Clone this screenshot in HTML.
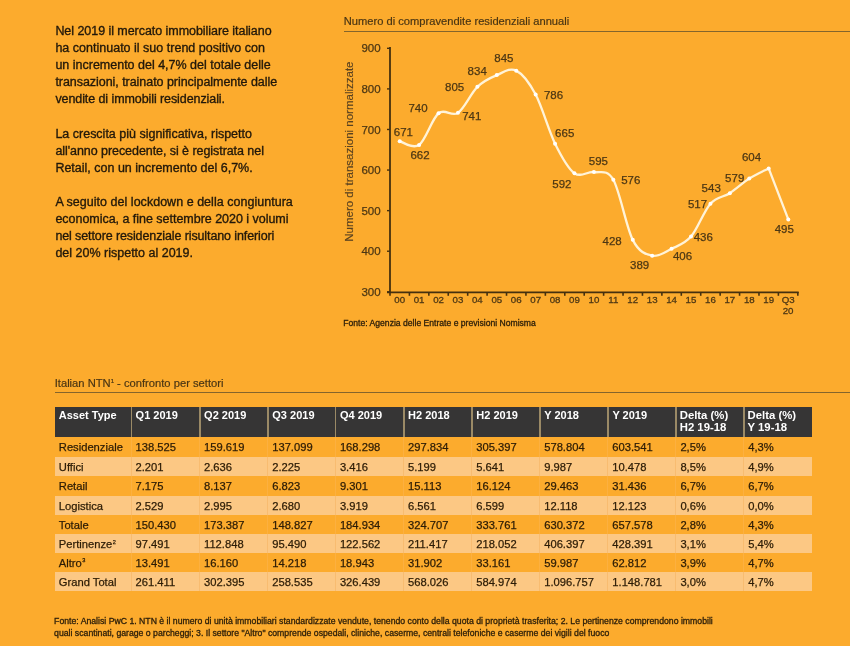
<!DOCTYPE html>
<html><head><meta charset="utf-8"><style>
html,body{margin:0;padding:0;}
body{width:850px;height:646px;background:#FCAB2D;position:relative;overflow:hidden;font-family:"Liberation Sans",Arial,sans-serif;}
.intro{position:absolute;left:55.4px;top:23px;width:260px;font-size:12.5px;line-height:17.1px;color:#22180a;-webkit-text-stroke:0.35px #22180a;}
.intro p{margin:0 0 17.1px 0;}
.ctitle{position:absolute;left:343.8px;top:15px;font-size:11.15px;color:#4a3614;-webkit-text-stroke:0.2px #4a3614;white-space:nowrap;}
.crule{position:absolute;left:343.8px;top:30.6px;width:507px;height:1px;background:#84652c;}
.chart{position:absolute;left:0;top:0;}
.chart text{font-family:"Liberation Sans",Arial,sans-serif;}
.yl{font-size:11.5px;fill:#4c3714;stroke:#4c3714;stroke-width:0.25px;text-anchor:end;}
.xl{font-size:9.7px;fill:#4e3814;stroke:#4e3814;stroke-width:0.3px;text-anchor:middle;}
.dl{font-size:11.5px;fill:#4c3714;stroke:#4c3714;stroke-width:0.25px;text-anchor:middle;}
.yt{font-size:11.5px;fill:#5a4220;stroke:#5a4220;stroke-width:0.15px;text-anchor:middle;}
.cfoot{position:absolute;left:343.3px;top:318px;font-size:8.6px;color:#2e200a;-webkit-text-stroke:0.3px #2e200a;white-space:nowrap;}
.ttitle{position:absolute;left:54.7px;top:377px;font-size:11.2px;color:#4a3614;-webkit-text-stroke:0.2px #4a3614;white-space:nowrap;}
.ttitle sup{font-size:6px;vertical-align:4px;}
.trule{position:absolute;left:55px;top:392px;width:795px;height:1px;background:#84652c;}
.hdr{position:absolute;left:55px;top:406.5px;width:756.8px;height:30.5px;background:#363535;}
.hsep{position:absolute;top:406.5px;width:1.5px;height:30.5px;background:#9b8a66;}
.hc{position:absolute;top:407.5px;font-size:11px;font-weight:bold;color:#fff;line-height:14px;white-space:nowrap;}
.hd{font-size:11.35px;line-height:12.5px;top:408.5px;}
.ro,.rl{position:absolute;left:55px;width:756.8px;height:19.25px;}
.ro{background:transparent;}
.rl{background:#FCC884;}
.ros,.rls{position:absolute;width:1px;height:19.25px;}
.ros{background:#FCB040;}
.rls{background:#F8BC70;}
.bc{position:absolute;font-size:11.2px;line-height:19.25px;margin-top:1.2px;color:#2c1c06;-webkit-text-stroke:0.25px #2c1c06;white-space:nowrap;}
.sp{font-size:5.6px;position:relative;top:-4.6px;line-height:0;margin-left:0.4px;}
.tfoot{position:absolute;left:54.1px;top:616.3px;font-size:8.7px;line-height:11.6px;color:#2e200a;-webkit-text-stroke:0.3px #2e200a;white-space:nowrap;}
</style></head><body>
<div class="intro">
<p><span style="letter-spacing:-0.05px">Nel 2019 il mercato immobiliare italiano</span><br><span style="letter-spacing:0.009px">ha continuato il suo trend positivo con</span><br><span style="letter-spacing:-0.003px">un incremento del 4,7% del totale delle</span><br><span style="letter-spacing:-0.048px">transazioni, trainato principalmente dalle</span><br><span style="letter-spacing:-0.084px">vendite di immobili residenziali.</span></p>
<p><span style="letter-spacing:-0.001px">La crescita più significativa, rispetto</span><br><span style="letter-spacing:-0.06px">all'anno precedente, si è registrata nel</span><br><span style="letter-spacing:-0.001px">Retail, con un incremento del 6,7%.</span></p>
<p><span style="letter-spacing:0.027px">A seguito del lockdown e della congiuntura</span><br><span style="letter-spacing:-0.026px">economica, a fine settembre 2020 i volumi</span><br><span style="letter-spacing:-0.11px">nel settore residenziale risultano inferiori</span><br>del 20% rispetto al 2019.</p>
</div>
<div class="ctitle">Numero di compravendite residenziali annuali</div>
<div class="crule"></div>
<svg class="chart" width="850" height="340" viewBox="0 0 850 340">
<line x1="390" y1="47" x2="390" y2="292.6" stroke="#45300f" stroke-width="1.8"/>
<line x1="387" y1="292.3" x2="798.7" y2="292.3" stroke="#45300f" stroke-width="1.8"/>
<line x1="387" y1="291.80" x2="390" y2="291.80" stroke="#45300f" stroke-width="1.4"/>
<text x="380.6" y="295.90" class="yl">300</text>
<line x1="387" y1="251.22" x2="390" y2="251.22" stroke="#45300f" stroke-width="1.4"/>
<text x="380.6" y="255.32" class="yl">400</text>
<line x1="387" y1="210.64" x2="390" y2="210.64" stroke="#45300f" stroke-width="1.4"/>
<text x="380.6" y="214.74" class="yl">500</text>
<line x1="387" y1="170.06" x2="390" y2="170.06" stroke="#45300f" stroke-width="1.4"/>
<text x="380.6" y="174.16" class="yl">600</text>
<line x1="387" y1="129.48" x2="390" y2="129.48" stroke="#45300f" stroke-width="1.4"/>
<text x="380.6" y="133.58" class="yl">700</text>
<line x1="387" y1="88.90" x2="390" y2="88.90" stroke="#45300f" stroke-width="1.4"/>
<text x="380.6" y="93.00" class="yl">800</text>
<line x1="387" y1="48.32" x2="390" y2="48.32" stroke="#45300f" stroke-width="1.4"/>
<text x="380.6" y="52.42" class="yl">900</text>
<line x1="390.00" y1="292" x2="390.00" y2="295.8" stroke="#45300f" stroke-width="1.6"/>
<line x1="409.42" y1="292" x2="409.42" y2="295.8" stroke="#45300f" stroke-width="1.6"/>
<line x1="428.84" y1="292" x2="428.84" y2="295.8" stroke="#45300f" stroke-width="1.6"/>
<line x1="448.26" y1="292" x2="448.26" y2="295.8" stroke="#45300f" stroke-width="1.6"/>
<line x1="467.68" y1="292" x2="467.68" y2="295.8" stroke="#45300f" stroke-width="1.6"/>
<line x1="487.10" y1="292" x2="487.10" y2="295.8" stroke="#45300f" stroke-width="1.6"/>
<line x1="506.52" y1="292" x2="506.52" y2="295.8" stroke="#45300f" stroke-width="1.6"/>
<line x1="525.94" y1="292" x2="525.94" y2="295.8" stroke="#45300f" stroke-width="1.6"/>
<line x1="545.36" y1="292" x2="545.36" y2="295.8" stroke="#45300f" stroke-width="1.6"/>
<line x1="564.78" y1="292" x2="564.78" y2="295.8" stroke="#45300f" stroke-width="1.6"/>
<line x1="584.20" y1="292" x2="584.20" y2="295.8" stroke="#45300f" stroke-width="1.6"/>
<line x1="603.62" y1="292" x2="603.62" y2="295.8" stroke="#45300f" stroke-width="1.6"/>
<line x1="623.04" y1="292" x2="623.04" y2="295.8" stroke="#45300f" stroke-width="1.6"/>
<line x1="642.46" y1="292" x2="642.46" y2="295.8" stroke="#45300f" stroke-width="1.6"/>
<line x1="661.88" y1="292" x2="661.88" y2="295.8" stroke="#45300f" stroke-width="1.6"/>
<line x1="681.30" y1="292" x2="681.30" y2="295.8" stroke="#45300f" stroke-width="1.6"/>
<line x1="700.72" y1="292" x2="700.72" y2="295.8" stroke="#45300f" stroke-width="1.6"/>
<line x1="720.14" y1="292" x2="720.14" y2="295.8" stroke="#45300f" stroke-width="1.6"/>
<line x1="739.56" y1="292" x2="739.56" y2="295.8" stroke="#45300f" stroke-width="1.6"/>
<line x1="758.98" y1="292" x2="758.98" y2="295.8" stroke="#45300f" stroke-width="1.6"/>
<line x1="778.40" y1="292" x2="778.40" y2="295.8" stroke="#45300f" stroke-width="1.6"/>
<line x1="797.82" y1="292" x2="797.82" y2="295.8" stroke="#45300f" stroke-width="1.6"/>
<text x="399.71" y="302.8" class="xl">00</text>
<text x="419.13" y="302.8" class="xl">01</text>
<text x="438.55" y="302.8" class="xl">02</text>
<text x="457.97" y="302.8" class="xl">03</text>
<text x="477.39" y="302.8" class="xl">04</text>
<text x="496.81" y="302.8" class="xl">05</text>
<text x="516.23" y="302.8" class="xl">06</text>
<text x="535.65" y="302.8" class="xl">07</text>
<text x="555.07" y="302.8" class="xl">08</text>
<text x="574.49" y="302.8" class="xl">09</text>
<text x="593.91" y="302.8" class="xl">10</text>
<text x="613.33" y="302.8" class="xl">11</text>
<text x="632.75" y="302.8" class="xl">12</text>
<text x="652.17" y="302.8" class="xl">13</text>
<text x="671.59" y="302.8" class="xl">14</text>
<text x="691.01" y="302.8" class="xl">15</text>
<text x="710.43" y="302.8" class="xl">16</text>
<text x="729.85" y="302.8" class="xl">17</text>
<text x="749.27" y="302.8" class="xl">18</text>
<text x="768.69" y="302.8" class="xl">19</text>
<text x="788.11" y="302.8" class="xl">Q3</text>
<text x="788.11" y="314.2" class="xl">20</text>
<path d="M399.71,141.25 C402.95,141.86 412.66,149.57 419.13,144.90 C425.60,140.23 432.08,118.59 438.55,113.25 C445.02,107.90 451.50,117.24 457.97,112.84 C464.44,108.45 470.92,93.16 477.39,86.87 C483.86,80.58 490.34,77.81 496.81,75.10 C503.28,72.40 509.76,67.39 516.23,70.64 C522.70,73.89 529.18,82.41 535.65,94.58 C542.12,106.76 548.60,130.56 555.07,143.68 C561.54,156.80 568.02,168.57 574.49,173.31 C580.96,178.04 587.44,171.01 593.91,172.09 C600.38,173.17 606.86,168.50 613.33,179.80 C619.80,191.09 626.28,227.21 632.75,239.86 C639.22,252.51 645.70,254.20 652.17,255.68 C658.64,257.17 665.12,251.96 671.59,248.79 C678.06,245.61 684.54,244.12 691.01,236.61 C697.48,229.10 703.96,210.98 710.43,203.74 C716.90,196.50 723.38,197.38 729.85,193.19 C736.32,189.00 742.80,182.71 749.27,178.58 C755.74,174.46 765.45,170.13 768.69,168.44" fill="none" stroke="#FFF3D8" stroke-width="2.3" stroke-linecap="round" stroke-linejoin="round"/>
<path d="M768.69,168.44 L788.30,219.40" fill="none" stroke="#FFF3D8" stroke-width="2.3" stroke-linecap="round"/>
<circle cx="399.71" cy="141.25" r="2.0" fill="#FFFFFF"/>
<circle cx="419.13" cy="144.90" r="2.0" fill="#FFFFFF"/>
<circle cx="438.55" cy="113.25" r="2.0" fill="#FFFFFF"/>
<circle cx="457.97" cy="112.84" r="2.0" fill="#FFFFFF"/>
<circle cx="477.39" cy="86.87" r="2.0" fill="#FFFFFF"/>
<circle cx="496.81" cy="75.10" r="2.0" fill="#FFFFFF"/>
<circle cx="516.23" cy="70.64" r="2.0" fill="#FFFFFF"/>
<circle cx="535.65" cy="94.58" r="2.0" fill="#FFFFFF"/>
<circle cx="555.07" cy="143.68" r="2.0" fill="#FFFFFF"/>
<circle cx="574.49" cy="173.31" r="2.0" fill="#FFFFFF"/>
<circle cx="593.91" cy="172.09" r="2.0" fill="#FFFFFF"/>
<circle cx="613.33" cy="179.80" r="2.0" fill="#FFFFFF"/>
<circle cx="632.75" cy="239.86" r="2.0" fill="#FFFFFF"/>
<circle cx="652.17" cy="255.68" r="2.0" fill="#FFFFFF"/>
<circle cx="671.59" cy="248.79" r="2.0" fill="#FFFFFF"/>
<circle cx="691.01" cy="236.61" r="2.0" fill="#FFFFFF"/>
<circle cx="710.43" cy="203.74" r="2.0" fill="#FFFFFF"/>
<circle cx="729.85" cy="193.19" r="2.0" fill="#FFFFFF"/>
<circle cx="749.27" cy="178.58" r="2.0" fill="#FFFFFF"/>
<circle cx="768.69" cy="168.44" r="2.0" fill="#FFFFFF"/>
<circle cx="788.30" cy="219.40" r="2.0" fill="#FFFFFF"/>
<text x="403.40" y="135.70" class="dl">671</text>
<text x="420.00" y="158.60" class="dl">662</text>
<text x="418.00" y="111.90" class="dl">740</text>
<text x="471.80" y="119.80" class="dl">741</text>
<text x="454.60" y="90.80" class="dl">805</text>
<text x="477.20" y="74.80" class="dl">834</text>
<text x="503.90" y="62.00" class="dl">845</text>
<text x="553.50" y="98.50" class="dl">786</text>
<text x="564.70" y="137.30" class="dl">665</text>
<text x="561.90" y="188.30" class="dl">592</text>
<text x="598.40" y="164.50" class="dl">595</text>
<text x="630.80" y="184.20" class="dl">576</text>
<text x="612.10" y="244.60" class="dl">428</text>
<text x="639.60" y="269.40" class="dl">389</text>
<text x="682.50" y="259.80" class="dl">406</text>
<text x="703.30" y="240.80" class="dl">436</text>
<text x="697.50" y="208.00" class="dl">517</text>
<text x="711.20" y="191.50" class="dl">543</text>
<text x="734.70" y="182.00" class="dl">579</text>
<text x="751.50" y="161.30" class="dl">604</text>
<text x="784.30" y="232.80" class="dl">495</text>
<text transform="translate(353,151.6) rotate(-90)" class="yt">Numero di transazioni normalizzate</text>
</svg>
<div class="cfoot">Fonte: Agenzia delle Entrate e previsioni Nomisma</div>
<div class="ttitle">Italian NTN<sup>1</sup> - confronto per settori</div>
<div class="trule"></div>
<div class="hdr"></div>
<div class="hc" style="left:58.8px">Asset Type</div>
<div class="hc" style="left:135.6px">Q1 2019</div>
<div class="hsep" style="left:130.5px"></div>
<div class="hc" style="left:204.1px">Q2 2019</div>
<div class="hsep" style="left:199.0px"></div>
<div class="hc" style="left:272.3px">Q3 2019</div>
<div class="hsep" style="left:267.2px"></div>
<div class="hc" style="left:340.0px">Q4 2019</div>
<div class="hsep" style="left:334.9px"></div>
<div class="hc" style="left:408.1px">H2 2018</div>
<div class="hsep" style="left:403.0px"></div>
<div class="hc" style="left:476.3px">H2 2019</div>
<div class="hsep" style="left:471.2px"></div>
<div class="hc" style="left:544.3px">Y 2018</div>
<div class="hsep" style="left:539.2px"></div>
<div class="hc" style="left:612.4px">Y 2019</div>
<div class="hsep" style="left:607.3px"></div>
<div class="hc hd" style="left:679.7px">Delta (%)<br>H2 19-18</div>
<div class="hsep" style="left:675.4px"></div>
<div class="hc hd" style="left:747.5px">Delta (%)<br>Y 19-18</div>
<div class="hsep" style="left:743.2px"></div>
<div class="ro" style="top:437.00px;height:19.50px"></div>
<div class="ros" style="left:130.5px;top:437.00px;height:19.50px"></div>
<div class="ros" style="left:199.0px;top:437.00px;height:19.50px"></div>
<div class="ros" style="left:267.2px;top:437.00px;height:19.50px"></div>
<div class="ros" style="left:334.9px;top:437.00px;height:19.50px"></div>
<div class="ros" style="left:403.0px;top:437.00px;height:19.50px"></div>
<div class="ros" style="left:471.2px;top:437.00px;height:19.50px"></div>
<div class="ros" style="left:539.2px;top:437.00px;height:19.50px"></div>
<div class="ros" style="left:607.3px;top:437.00px;height:19.50px"></div>
<div class="ros" style="left:675.4px;top:437.00px;height:19.50px"></div>
<div class="ros" style="left:743.2px;top:437.00px;height:19.50px"></div>
<div class="bc" style="left:58.8px;top:437.00px">Residenziale</div>
<div class="bc" style="left:135.5px;top:437.00px">138.525</div>
<div class="bc" style="left:204.0px;top:437.00px">159.619</div>
<div class="bc" style="left:272.2px;top:437.00px">137.099</div>
<div class="bc" style="left:339.9px;top:437.00px">168.298</div>
<div class="bc" style="left:408.0px;top:437.00px">297.834</div>
<div class="bc" style="left:476.2px;top:437.00px">305.397</div>
<div class="bc" style="left:544.2px;top:437.00px">578.804</div>
<div class="bc" style="left:612.3px;top:437.00px">603.541</div>
<div class="bc" style="left:680.4px;top:437.00px">2,5%</div>
<div class="bc" style="left:748.2px;top:437.00px">4,3%</div>
<div class="rl" style="top:456.50px;height:19.50px"></div>
<div class="rls" style="left:130.5px;top:456.50px;height:19.50px"></div>
<div class="rls" style="left:199.0px;top:456.50px;height:19.50px"></div>
<div class="rls" style="left:267.2px;top:456.50px;height:19.50px"></div>
<div class="rls" style="left:334.9px;top:456.50px;height:19.50px"></div>
<div class="rls" style="left:403.0px;top:456.50px;height:19.50px"></div>
<div class="rls" style="left:471.2px;top:456.50px;height:19.50px"></div>
<div class="rls" style="left:539.2px;top:456.50px;height:19.50px"></div>
<div class="rls" style="left:607.3px;top:456.50px;height:19.50px"></div>
<div class="rls" style="left:675.4px;top:456.50px;height:19.50px"></div>
<div class="rls" style="left:743.2px;top:456.50px;height:19.50px"></div>
<div class="bc" style="left:58.8px;top:456.50px">Uffici</div>
<div class="bc" style="left:135.5px;top:456.50px">2.201</div>
<div class="bc" style="left:204.0px;top:456.50px">2.636</div>
<div class="bc" style="left:272.2px;top:456.50px">2.225</div>
<div class="bc" style="left:339.9px;top:456.50px">3.416</div>
<div class="bc" style="left:408.0px;top:456.50px">5.199</div>
<div class="bc" style="left:476.2px;top:456.50px">5.641</div>
<div class="bc" style="left:544.2px;top:456.50px">9.987</div>
<div class="bc" style="left:612.3px;top:456.50px">10.478</div>
<div class="bc" style="left:680.4px;top:456.50px">8,5%</div>
<div class="bc" style="left:748.2px;top:456.50px">4,9%</div>
<div class="ro" style="top:476.00px;height:19.50px"></div>
<div class="ros" style="left:130.5px;top:476.00px;height:19.50px"></div>
<div class="ros" style="left:199.0px;top:476.00px;height:19.50px"></div>
<div class="ros" style="left:267.2px;top:476.00px;height:19.50px"></div>
<div class="ros" style="left:334.9px;top:476.00px;height:19.50px"></div>
<div class="ros" style="left:403.0px;top:476.00px;height:19.50px"></div>
<div class="ros" style="left:471.2px;top:476.00px;height:19.50px"></div>
<div class="ros" style="left:539.2px;top:476.00px;height:19.50px"></div>
<div class="ros" style="left:607.3px;top:476.00px;height:19.50px"></div>
<div class="ros" style="left:675.4px;top:476.00px;height:19.50px"></div>
<div class="ros" style="left:743.2px;top:476.00px;height:19.50px"></div>
<div class="bc" style="left:58.8px;top:476.00px">Retail</div>
<div class="bc" style="left:135.5px;top:476.00px">7.175</div>
<div class="bc" style="left:204.0px;top:476.00px">8.137</div>
<div class="bc" style="left:272.2px;top:476.00px">6.823</div>
<div class="bc" style="left:339.9px;top:476.00px">9.301</div>
<div class="bc" style="left:408.0px;top:476.00px">15.113</div>
<div class="bc" style="left:476.2px;top:476.00px">16.124</div>
<div class="bc" style="left:544.2px;top:476.00px">29.463</div>
<div class="bc" style="left:612.3px;top:476.00px">31.436</div>
<div class="bc" style="left:680.4px;top:476.00px">6,7%</div>
<div class="bc" style="left:748.2px;top:476.00px">6,7%</div>
<div class="rl" style="top:495.50px;height:19.00px"></div>
<div class="rls" style="left:130.5px;top:495.50px;height:19.00px"></div>
<div class="rls" style="left:199.0px;top:495.50px;height:19.00px"></div>
<div class="rls" style="left:267.2px;top:495.50px;height:19.00px"></div>
<div class="rls" style="left:334.9px;top:495.50px;height:19.00px"></div>
<div class="rls" style="left:403.0px;top:495.50px;height:19.00px"></div>
<div class="rls" style="left:471.2px;top:495.50px;height:19.00px"></div>
<div class="rls" style="left:539.2px;top:495.50px;height:19.00px"></div>
<div class="rls" style="left:607.3px;top:495.50px;height:19.00px"></div>
<div class="rls" style="left:675.4px;top:495.50px;height:19.00px"></div>
<div class="rls" style="left:743.2px;top:495.50px;height:19.00px"></div>
<div class="bc" style="left:58.8px;top:495.50px">Logistica</div>
<div class="bc" style="left:135.5px;top:495.50px">2.529</div>
<div class="bc" style="left:204.0px;top:495.50px">2.995</div>
<div class="bc" style="left:272.2px;top:495.50px">2.680</div>
<div class="bc" style="left:339.9px;top:495.50px">3.919</div>
<div class="bc" style="left:408.0px;top:495.50px">6.561</div>
<div class="bc" style="left:476.2px;top:495.50px">6.599</div>
<div class="bc" style="left:544.2px;top:495.50px">12.118</div>
<div class="bc" style="left:612.3px;top:495.50px">12.123</div>
<div class="bc" style="left:680.4px;top:495.50px">0,6%</div>
<div class="bc" style="left:748.2px;top:495.50px">0,0%</div>
<div class="ro" style="top:514.50px;height:19.50px"></div>
<div class="ros" style="left:130.5px;top:514.50px;height:19.50px"></div>
<div class="ros" style="left:199.0px;top:514.50px;height:19.50px"></div>
<div class="ros" style="left:267.2px;top:514.50px;height:19.50px"></div>
<div class="ros" style="left:334.9px;top:514.50px;height:19.50px"></div>
<div class="ros" style="left:403.0px;top:514.50px;height:19.50px"></div>
<div class="ros" style="left:471.2px;top:514.50px;height:19.50px"></div>
<div class="ros" style="left:539.2px;top:514.50px;height:19.50px"></div>
<div class="ros" style="left:607.3px;top:514.50px;height:19.50px"></div>
<div class="ros" style="left:675.4px;top:514.50px;height:19.50px"></div>
<div class="ros" style="left:743.2px;top:514.50px;height:19.50px"></div>
<div class="bc" style="left:58.8px;top:514.50px">Totale</div>
<div class="bc" style="left:135.5px;top:514.50px">150.430</div>
<div class="bc" style="left:204.0px;top:514.50px">173.387</div>
<div class="bc" style="left:272.2px;top:514.50px">148.827</div>
<div class="bc" style="left:339.9px;top:514.50px">184.934</div>
<div class="bc" style="left:408.0px;top:514.50px">324.707</div>
<div class="bc" style="left:476.2px;top:514.50px">333.761</div>
<div class="bc" style="left:544.2px;top:514.50px">630.372</div>
<div class="bc" style="left:612.3px;top:514.50px">657.578</div>
<div class="bc" style="left:680.4px;top:514.50px">2,8%</div>
<div class="bc" style="left:748.2px;top:514.50px">4,3%</div>
<div class="rl" style="top:534.00px;height:18.50px"></div>
<div class="rls" style="left:130.5px;top:534.00px;height:18.50px"></div>
<div class="rls" style="left:199.0px;top:534.00px;height:18.50px"></div>
<div class="rls" style="left:267.2px;top:534.00px;height:18.50px"></div>
<div class="rls" style="left:334.9px;top:534.00px;height:18.50px"></div>
<div class="rls" style="left:403.0px;top:534.00px;height:18.50px"></div>
<div class="rls" style="left:471.2px;top:534.00px;height:18.50px"></div>
<div class="rls" style="left:539.2px;top:534.00px;height:18.50px"></div>
<div class="rls" style="left:607.3px;top:534.00px;height:18.50px"></div>
<div class="rls" style="left:675.4px;top:534.00px;height:18.50px"></div>
<div class="rls" style="left:743.2px;top:534.00px;height:18.50px"></div>
<div class="bc" style="left:58.8px;top:534.00px">Pertinenze<span class="sp">2</span></div>
<div class="bc" style="left:135.5px;top:534.00px">97.491</div>
<div class="bc" style="left:204.0px;top:534.00px">112.848</div>
<div class="bc" style="left:272.2px;top:534.00px">95.490</div>
<div class="bc" style="left:339.9px;top:534.00px">122.562</div>
<div class="bc" style="left:408.0px;top:534.00px">211.417</div>
<div class="bc" style="left:476.2px;top:534.00px">218.052</div>
<div class="bc" style="left:544.2px;top:534.00px">406.397</div>
<div class="bc" style="left:612.3px;top:534.00px">428.391</div>
<div class="bc" style="left:680.4px;top:534.00px">3,1%</div>
<div class="bc" style="left:748.2px;top:534.00px">5,4%</div>
<div class="ro" style="top:552.50px;height:19.50px"></div>
<div class="ros" style="left:130.5px;top:552.50px;height:19.50px"></div>
<div class="ros" style="left:199.0px;top:552.50px;height:19.50px"></div>
<div class="ros" style="left:267.2px;top:552.50px;height:19.50px"></div>
<div class="ros" style="left:334.9px;top:552.50px;height:19.50px"></div>
<div class="ros" style="left:403.0px;top:552.50px;height:19.50px"></div>
<div class="ros" style="left:471.2px;top:552.50px;height:19.50px"></div>
<div class="ros" style="left:539.2px;top:552.50px;height:19.50px"></div>
<div class="ros" style="left:607.3px;top:552.50px;height:19.50px"></div>
<div class="ros" style="left:675.4px;top:552.50px;height:19.50px"></div>
<div class="ros" style="left:743.2px;top:552.50px;height:19.50px"></div>
<div class="bc" style="left:58.8px;top:552.50px">Altro<span class="sp">3</span></div>
<div class="bc" style="left:135.5px;top:552.50px">13.491</div>
<div class="bc" style="left:204.0px;top:552.50px">16.160</div>
<div class="bc" style="left:272.2px;top:552.50px">14.218</div>
<div class="bc" style="left:339.9px;top:552.50px">18.943</div>
<div class="bc" style="left:408.0px;top:552.50px">31.902</div>
<div class="bc" style="left:476.2px;top:552.50px">33.161</div>
<div class="bc" style="left:544.2px;top:552.50px">59.987</div>
<div class="bc" style="left:612.3px;top:552.50px">62.812</div>
<div class="bc" style="left:680.4px;top:552.50px">3,9%</div>
<div class="bc" style="left:748.2px;top:552.50px">4,7%</div>
<div class="rl" style="top:572.00px;height:19.00px"></div>
<div class="rls" style="left:130.5px;top:572.00px;height:19.00px"></div>
<div class="rls" style="left:199.0px;top:572.00px;height:19.00px"></div>
<div class="rls" style="left:267.2px;top:572.00px;height:19.00px"></div>
<div class="rls" style="left:334.9px;top:572.00px;height:19.00px"></div>
<div class="rls" style="left:403.0px;top:572.00px;height:19.00px"></div>
<div class="rls" style="left:471.2px;top:572.00px;height:19.00px"></div>
<div class="rls" style="left:539.2px;top:572.00px;height:19.00px"></div>
<div class="rls" style="left:607.3px;top:572.00px;height:19.00px"></div>
<div class="rls" style="left:675.4px;top:572.00px;height:19.00px"></div>
<div class="rls" style="left:743.2px;top:572.00px;height:19.00px"></div>
<div class="bc" style="left:58.8px;top:572.00px">Grand Total</div>
<div class="bc" style="left:135.5px;top:572.00px">261.411</div>
<div class="bc" style="left:204.0px;top:572.00px">302.395</div>
<div class="bc" style="left:272.2px;top:572.00px">258.535</div>
<div class="bc" style="left:339.9px;top:572.00px">326.439</div>
<div class="bc" style="left:408.0px;top:572.00px">568.026</div>
<div class="bc" style="left:476.2px;top:572.00px">584.974</div>
<div class="bc" style="left:544.2px;top:572.00px">1.096.757</div>
<div class="bc" style="left:612.3px;top:572.00px">1.148.781</div>
<div class="bc" style="left:680.4px;top:572.00px">3,0%</div>
<div class="bc" style="left:748.2px;top:572.00px">4,7%</div>
<div class="tfoot">Fonte: Analisi PwC 1. NTN è il numero di unità immobiliari standardizzate vendute, tenendo conto della quota di proprietà trasferita; 2. Le pertinenze comprendono immobili<br>quali scantinati, garage o parcheggi; 3. Il settore "Altro" comprende ospedali, cliniche, caserme, centrali telefoniche e caserme dei vigili del fuoco</div>
</body></html>
